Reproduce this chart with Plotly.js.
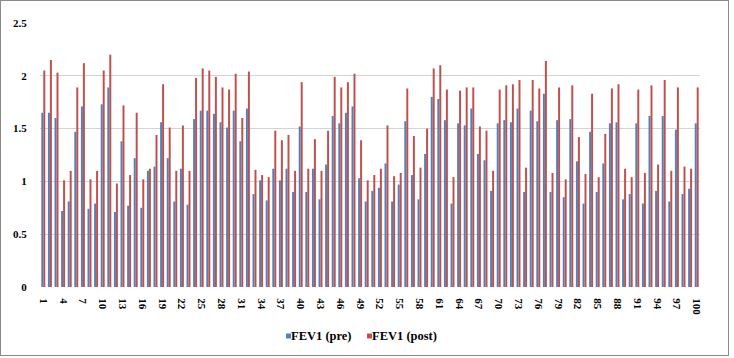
<!DOCTYPE html>
<html>
<head>
<meta charset="utf-8">
<script src="https://cdn.plot.ly/plotly-3.0.1.min.js"></script>
<style>
  html, body { margin: 0; padding: 0; background: #fff; }
  #wrap { position: relative; width: 734px; height: 358px; }
  #chart { position: absolute; left: 0; top: 0; width: 734px; height: 358px; }
  #frame { position: absolute; left: 0; top: 0; width: 727px; height: 354px; border: 1px solid #8a8a8a; pointer-events: none; }
</style>
</head>
<body>
<div id="wrap">
  <div id="chart"></div>
  <div id="frame"></div>
</div>
<script>
const categories = Array.from({length: 100}, (_, i) => String(i + 1));

const fev1Pre = [
  1.65, 1.65, 1.60, 0.72, 0.81, 1.47, 1.71, 0.74, 0.79, 1.73, 1.89, 0.71, 1.38, 0.77, 1.22, 0.75,
  1.10, 1.14, 1.56, 1.22, 0.81, 1.12, 0.78, 1.59, 1.67, 1.67, 1.64, 1.56, 1.51, 1.67, 1.38, 1.69, 0.88,
  1.01, 0.82, 1.12, 1.01, 1.12, 0.90, 1.52, 0.90, 1.12, 0.83, 1.16, 1.62, 1.55, 1.65, 1.71, 1.03, 0.81, 0.91,
  0.94, 1.17, 0.81, 0.97, 1.57, 1.06, 0.83, 1.26, 1.80, 1.78, 1.58, 0.79, 1.55, 1.53, 1.69, 1.26, 1.20,
  0.91, 1.55, 1.58, 1.56, 1.69, 0.90, 1.67, 1.57, 1.83, 0.90, 1.58, 0.85, 1.59, 1.19, 0.79, 1.47, 0.90, 1.17,
  1.55, 1.56, 0.83, 0.88, 1.55, 0.79, 1.62, 0.91, 1.62, 0.81, 1.49, 0.88, 0.93, 1.55
];

const fev1Post = [
  2.05, 2.15, 2.03, 1.01, 1.10, 1.89, 2.12, 1.02, 1.10, 2.05, 2.20, 0.98, 1.72, 1.06, 1.65, 1.02,
  1.12, 1.44, 1.92, 1.51, 1.10, 1.53, 1.10, 1.98, 2.07, 2.05, 1.99, 1.89, 1.87, 2.02, 1.60, 2.04, 1.11,
  1.06, 1.04, 1.48, 1.39, 1.44, 1.10, 1.94, 1.12, 1.40, 1.10, 1.48, 1.99, 1.89, 1.94, 2.02, 1.39, 1.01, 1.06,
  1.12, 1.53, 1.05, 1.08, 1.88, 1.43, 1.13, 1.50, 2.07, 2.10, 1.87, 1.04, 1.86, 1.89, 1.89, 1.52, 1.48,
  1.10, 1.87, 1.91, 1.92, 1.96, 1.13, 1.96, 1.88, 2.14, 1.08, 1.89, 1.02, 1.91, 1.42, 1.07, 1.83, 1.04, 1.45,
  1.88, 1.92, 1.12, 1.04, 1.87, 1.08, 1.91, 1.16, 1.96, 1.10, 1.89, 1.14, 1.12, 1.89
];

const seriesNames = ['FEV1 (pre)', 'FEV1 (post)'];
const seriesColors = ['#4F81BD', '#C0504D'];
const tickLabels = categories.filter((_, i) => i % 3 === 0);
const yTicks = [0, 0.5, 1, 1.5, 2, 2.5];

const fam = '"Liberation Serif", "Times New Roman", serif';
const boldFont = (size) => ({family: fam, size: size, color: '#000', weight: 'bold'});

const traces = [
  {type: 'bar', name: seriesNames[0], x: categories, y: fev1Pre,
   marker: {color: seriesColors[0], line: {width: 0}}, hoverinfo: 'skip'},
  {type: 'bar', name: seriesNames[1], x: categories, y: fev1Post,
   marker: {color: seriesColors[1], line: {width: 0}}, hoverinfo: 'skip'}
];

// custom legend (small keys placed tight to their text, like the original)
const legY = -0.1856;           // paper y of legend centre
const keyH = 5 / 264;           // key height in paper units (plot height 264px)
const keyW = 5 / 660;           // key width in paper units (plot width 660px)
const legItems = [
  {keyX: 0.3727, textX: 0.3770},
  {keyX: 0.4955, textX: 0.4995}
];
const shapes = legItems.map((it, i) => ({
  type: 'rect', xref: 'paper', yref: 'paper',
  x0: it.keyX, x1: it.keyX + keyW, y0: legY - keyH / 2, y1: legY + keyH / 2,
  fillcolor: seriesColors[i], line: {width: 0}
}));
const annotations = legItems.map((it, i) => ({
  xref: 'paper', yref: 'paper', x: it.textX, y: legY,
  xanchor: 'left', yanchor: 'middle', showarrow: false,
  text: seriesNames[i], font: boldFont(12.5)
}));

const layout = {
  width: 734, height: 358,
  margin: {l: 40, r: 34, t: 23, b: 71, pad: 0},
  paper_bgcolor: '#fff', plot_bgcolor: '#fff',
  font: {family: fam, size: 11, color: '#000'},
  barmode: 'group', bargap: 0.4, bargroupgap: 0,
  showlegend: false,
  shapes: shapes,
  annotations: annotations,
  xaxis: {
    type: 'category', tickmode: 'array', tickvals: tickLabels, ticktext: tickLabels,
    tickangle: 90, showgrid: false, zeroline: false, showline: false,
    ticks: 'outside', ticklen: 8, tickcolor: 'rgba(0,0,0,0)',
    tickfont: boldFont(11),
    fixedrange: true
  },
  yaxis: {
    range: [0, 2.5], tickmode: 'array', tickvals: yTicks, ticktext: yTicks.map(String),
    showgrid: true, gridcolor: '#d4d4d4', gridwidth: 1, zeroline: false, showline: false,
    ticks: 'outside', ticklen: 10, tickcolor: 'rgba(0,0,0,0)',
    tickfont: boldFont(11),
    fixedrange: true
  }
};

Plotly.newPlot('chart', traces, layout, {displayModeBar: false, staticPlot: true});
</script>
</body>
</html>
